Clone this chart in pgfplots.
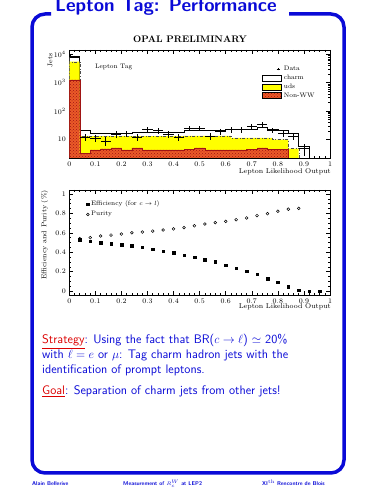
\documentclass[border=0pt]{standalone}
\usepackage{pgfplots}
\pgfplotsset{compat=1.18}
\usetikzlibrary{patterns}
\definecolor{slideblue}{RGB}{10,10,215}
\definecolor{slidered}{RGB}{220,0,0}
\definecolor{nonww}{RGB}{235,90,40}
\definecolor{nonwwdark}{RGB}{160,20,20}
\definecolor{udsyellow}{RGB}{255,255,0}
\pgfplotsset{opalaxis/.style={
  scale only axis, width=260.7pt, xmin=0, xmax=1,
  xtick={0,0.1,0.2,0.3,0.4,0.5,0.6,0.7,0.8,0.9,1},
  minor x tick num=4, tick align=inside,
  major tick length=4pt, minor tick length=2pt,
  ticklabel style={font=\fontsize{7}{8}\selectfont},
  xticklabel style={/pgf/number format/fixed},
  axis line style={line width=0.6pt},
  every tick/.style={black, line width=0.5pt},
}}
\begin{document}
\begin{tikzpicture}[x=1pt,y=1pt]
\fill[white] (0,0) rectangle (375,500);
% frame
\draw[slideblue, line width=3.5pt, rounded corners=13pt] (51,486) -- (32,486) -- (32,27) -- (344,27) -- (344,486) -- (289,486);
\node[anchor=base west, inner sep=0pt, text=slideblue, font=\fontsize{18.8}{20}\selectfont\sffamily\bfseries] at (55,488) {Lepton Tag: Performance};

% top plot
\node[font=\fontsize{9.5}{11}\selectfont\bfseries] at (190,461) {OPAL PRELIMINARY};
\begin{axis}[opalaxis, at={(69.3pt,342pt)}, anchor=south west, height=108pt,
  ymode=log, ymin=2.18, ymax=14300,
  ytick={10,100,1000,10000}, yticklabels={$10$,$10^2$,$10^3$,$10^4$},
  legend style={draw=none, fill=none, at={(0.74,0.87)}, anchor=north west,
    font=\fontsize{6.5}{7}\selectfont, row sep=-1.2pt, inner sep=0pt},
  legend cell align=left]
\addplot[const plot, draw=black, fill=white, line width=0.6pt, forget plot] coordinates {
 (0,1) (0,7900) (0.04,21) (0.08,16) (0.24,18) (0.44,20) (0.60,22) (0.72,26) (0.76,22) (0.80,21) (0.84,16) (0.88,5.8) (0.92,1)} -- cycle;
\addplot[const plot, draw=black!70, dash dot, fill=udsyellow, line width=0.4pt, forget plot] coordinates {
 (0,1) (0,5500) (0.04,13) (0.44,13.2) (0.62,11.3) (0.78,9.8) (0.84,4.7) (0.88,1)} -- cycle;
\addplot[const plot, draw=nonwwdark, fill=nonww, line width=0.4pt, postaction={pattern=crosshatch dots, pattern color=nonwwdark}, forget plot] coordinates {
 (0,1) (0,1245) (0.04,3.2) (0.08,4.2) (0.12,4.6) (0.16,5.0) (0.20,4.2) (0.24,5.0) (0.28,4.2) (0.44,4.4) (0.48,5.0) (0.52,4.2) (0.68,4.4) (0.72,5.0) (0.76,4.4) (0.84,1)} -- cycle;
\addplot[black, only marks, mark=*, mark size=0.01pt, mark options={draw=none, fill=none}, forget plot,
  error bars/.cd, x dir=both, x fixed=0.02, y dir=both, y explicit, error mark=none,
  error bar style={line width=0.6pt, black, solid}] coordinates {
 (0.02,8700) +- (0,93)
 (0.06,12) +- (0,3.5)
 (0.10,11) +- (0,3.3)
 (0.14,8.7) +- (0,2.9)
 (0.18,15) +- (0,3.9)
 (0.22,15.8) +- (0,4)
 (0.26,12) +- (0,3.5)
 (0.30,22) +- (0,4.7)
 (0.34,20) +- (0,4.5)
 (0.38,15) +- (0,3.9)
 (0.42,12) +- (0,3.5)
 (0.46,25) +- (0,5)
 (0.50,25) +- (0,5)
 (0.54,13) +- (0,3.6)
 (0.58,19) +- (0,4.4)
 (0.62,22) +- (0,4.7)
 (0.66,22) +- (0,4.7)
 (0.70,28) +- (0,5.3)
 (0.74,34) +- (0,5.8)
 (0.78,21) +- (0,4.6)
 (0.82,16) +- (0,4)
 (0.86,13) +- (0,3.6)
 (0.90,4.7) +- (0,2.2)
};
\addlegendimage{legend image code/.code={\draw[black,line width=0.4pt] (14pt,0pt)--(17pt,0pt) (15.5pt,-1.2pt)--(15.5pt,1.2pt);}}
\addlegendentry{Data}
\addlegendimage{legend image code/.code={\draw[black,fill=white,line width=0.5pt] (0pt,-3pt) rectangle (19pt,3pt);}}
\addlegendentry{charm}
\addlegendimage{legend image code/.code={\draw[black,fill=udsyellow,line width=0.5pt] (0pt,-3pt) rectangle (19pt,3pt);}}
\addlegendentry{uds}
\addlegendimage{legend image code/.code={\draw[black,fill=nonww,line width=0.5pt,postaction={pattern=crosshatch dots, pattern color=nonwwdark}] (0pt,-3pt) rectangle (19pt,3pt);}}
\addlegendentry{Non-WW}
\end{axis}
\node[font=\fontsize{6.5}{7}\selectfont] at (113.7,433.3) {Lepton Tag};
\node[rotate=90, anchor=east, inner sep=0pt, font=\fontsize{7}{8}\selectfont] at (50,447) {Jets};
\node[anchor=base east, inner sep=0pt, font=\fontsize{7}{8}\selectfont] at (331,326) {Lepton Likelihood Output};

% bottom plot
\begin{axis}[opalaxis, at={(69.3pt,205pt)}, anchor=south west, height=105pt,
  ymin=-0.041, ymax=1.041, ytick={0,0.2,0.4,0.6,0.8,1}, minor y tick num=3,
  yticklabel style={/pgf/number format/fixed},
  legend style={draw=none, fill=none, at={(0.065,0.915)}, anchor=north west,
    font=\fontsize{6.5}{7}\selectfont, row sep=0pt, inner sep=0pt},
  legend cell align=left]
\addplot[only marks, mark=square*, mark size=1.3pt, black] coordinates {
 (0.04,0.53) (0.08,0.515) (0.12,0.50) (0.16,0.49) (0.20,0.48) (0.24,0.464) (0.28,0.45) (0.32,0.43) (0.36,0.412) (0.40,0.395) (0.44,0.368) (0.48,0.347) (0.52,0.32) (0.56,0.30) (0.60,0.265) (0.64,0.234) (0.68,0.206) (0.72,0.172) (0.76,0.13) (0.80,0.09) (0.84,0.045) (0.88,0.01) (0.92,0.0) (0.96,0.0)};
\addlegendentry{Efficiency (for $c\rightarrow l$)}
\addplot[only marks, mark=o, mark size=1.4pt, black, line width=0.5pt] coordinates {
 (0.04,0.54) (0.08,0.55) (0.12,0.567) (0.16,0.577) (0.20,0.587) (0.24,0.60) (0.28,0.608) (0.32,0.618) (0.36,0.629) (0.40,0.64) (0.44,0.653) (0.48,0.672) (0.52,0.69) (0.56,0.705) (0.60,0.718) (0.64,0.735) (0.68,0.753) (0.72,0.778) (0.76,0.797) (0.80,0.822) (0.84,0.843) (0.88,0.852)};
\addlegendentry{Purity}
\end{axis}
\node[rotate=90, anchor=east, inner sep=0pt, font=\fontsize{7}{8}\selectfont] at (44.5,310) {Efficiency and Purity (\%)};
\node[anchor=base east, inner sep=0pt, font=\fontsize{7}{8}\selectfont] at (331,191) {Lepton Likelihood Output};

% text
\begin{scope}[every node/.style={anchor=base west, inner sep=0pt, text=slideblue, font=\fontsize{12.4}{15}\selectfont\sffamily}]
\node at (42,156) {\textcolor{slidered}{\underline{Strategy}}: Using the fact that BR($c\rightarrow\ell$) $\simeq$ 20\%};
\node at (42,141) {with $\ell=e$ or $\mu$: Tag charm hadron jets with the};
\node at (42,126) {identification of prompt leptons.};
\node at (42,105) {\textcolor{slidered}{\underline{Goal}}: Separation of charm jets from other jets!};
\end{scope}

% footer
\begin{scope}[every node/.style={anchor=base west, inner sep=0pt, text=slideblue, font=\fontsize{5.5}{6}\selectfont\sffamily\bfseries}]
\node at (32,14.5) {Alain Bellerive};
\node at (123,14.5) {Measurement of $R_c^W$ at LEP2};
\node at (262,14.5) {XI$^{\mathrm{th}}$ Rencontre de Blois};
\end{scope}
\pgfresetboundingbox
\useasboundingbox (0,0) rectangle (375,500);
\end{tikzpicture}
\end{document}
